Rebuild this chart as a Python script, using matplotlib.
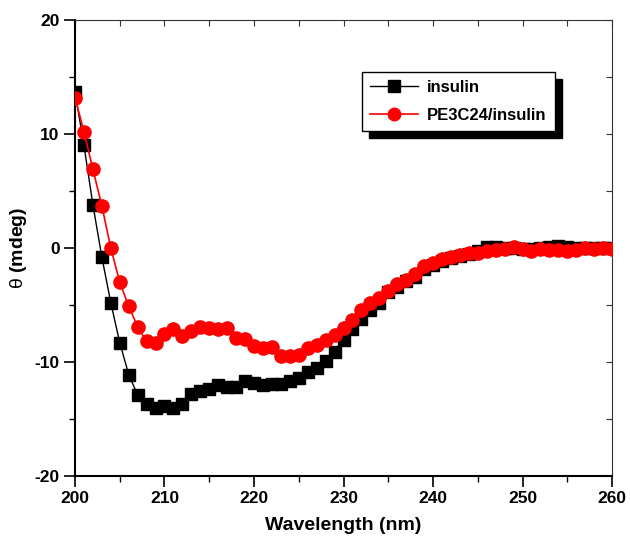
import matplotlib
matplotlib.use("Agg")
import matplotlib.pyplot as plt
import numpy as np
from matplotlib.ticker import MultipleLocator

wavelength = list(range(200, 261))

insulin = [13.7, 9.0, 3.8, -0.8, -4.8, -8.3, -11.1, -12.9, -13.7, -14.0,
           -13.9, -14.0, -13.7, -12.8, -12.5, -12.4, -12.0, -12.2, -12.2, -11.7,
           -11.8, -12.0, -11.9, -11.9, -11.7, -11.4, -10.9, -10.5, -9.9, -9.1,
           -8.1, -7.1, -6.2, -5.4, -4.8, -3.9, -3.4, -2.9, -2.5, -1.8,
           -1.5, -1.1, -0.9, -0.7, -0.5, -0.3, 0.1, 0.1, 0.0, 0.0,
           -0.1, -0.1, 0.0, 0.1, 0.2, 0.1, 0.0, 0.0, 0.0, 0.0, 0.0]

pe3c24 = [13.2, 10.2, 6.9, 3.7, 0.0, -3.0, -5.1, -6.9, -8.2, -8.3,
          -7.5, -7.1, -7.7, -7.3, -6.9, -7.0, -7.1, -7.0, -7.9, -8.0,
          -8.6, -8.8, -8.7, -9.5, -9.5, -9.4, -8.8, -8.5, -8.1, -7.6,
          -7.0, -6.3, -5.4, -4.8, -4.4, -3.8, -3.2, -2.8, -2.3, -1.6,
          -1.3, -1.0, -0.8, -0.6, -0.4, -0.45, -0.3, -0.2, -0.1, 0.1,
          -0.1, -0.3, -0.1, -0.2, -0.2, -0.3, -0.2, 0.0, -0.1, 0.0, -0.1]

labels = ["insulin", "PE3C24/insulin"]

plt.rcParams['font.family'] = ['Liberation Sans', 'DejaVu Sans']
plt.rcParams['axes.unicode_minus'] = False
plt.rcParams['mathtext.fontset'] = 'custom'
plt.rcParams['mathtext.rm'] = 'Liberation Sans'

fig = plt.figure(figsize=(6.3, 5.42), dpi=100)
ax = fig.add_axes([75/630, 66/542, 537/630, 456/542])

ax.plot(wavelength, insulin, color='black', lw=1.0, marker='s', ms=8.5,
        mec='black', mfc='black', label=labels[0], zorder=2)
ax.plot(wavelength, pe3c24, color='red', lw=1.2, marker='o', ms=9.5,
        mec='red', mfc='red', label=labels[1], zorder=3)

ax.set_xlim(200, 260)
ax.set_ylim(-20, 20)
ax.xaxis.set_major_locator(MultipleLocator(10))
ax.xaxis.set_minor_locator(MultipleLocator(5))
ax.yaxis.set_major_locator(MultipleLocator(10))
ax.yaxis.set_minor_locator(MultipleLocator(5))

ax.tick_params(axis='both', which='major', direction='out', length=8, width=1.2,
               labelsize=12.5, pad=3)
ax.tick_params(axis='both', which='minor', direction='out', length=4, width=1.0)
for lab in ax.get_xticklabels() + ax.get_yticklabels():
    lab.set_fontweight('bold')

for s in ['left', 'bottom']:
    ax.spines[s].set_linewidth(1.5)
for s in ['top', 'right']:
    ax.spines[s].set_linewidth(0.8)
    ax.spines[s].set_color('#333333')

axt = ax.secondary_xaxis('top')
axt.set_xticks(np.arange(200, 261, 5))
axt.tick_params(direction='in', length=4, width=0.8, labeltop=False, color='#333333')
axt.spines['top'].set_visible(False)
axr = ax.secondary_yaxis('right')
axr.set_yticks(np.arange(-20, 21, 5))
axr.tick_params(direction='in', length=4, width=0.8, labelright=False, color='#333333')
axr.spines['right'].set_visible(False)

ax.set_xlabel("Wavelength (nm)", fontsize=14, fontweight='bold', labelpad=8)
ax.set_ylabel(r"$\mathrm{\theta}$ (mdeg)", fontsize=14, fontweight='bold')
ax.yaxis.set_label_coords(-0.086, 0.5)

leg = ax.legend(loc='upper left', bbox_to_anchor=(0.534, 0.886), borderaxespad=0,
                fancybox=False, numpoints=1, handlelength=2.9,
                prop={'weight': 'bold', 'size': 12}, frameon=True,
                shadow={'color': 'black', 'ox': 5, 'oy': -5, 'alpha': 1.0},
                borderpad=0.5, labelspacing=0.75, handletextpad=0.5)
leg.get_frame().set_edgecolor('black')
leg.get_frame().set_linewidth(1.0)
leg.get_frame().set_alpha(1.0)
leg.legend_handles[0].set_markersize(8)
leg.legend_handles[1].set_markersize(9)

fig.savefig("out.png", dpi=100)
